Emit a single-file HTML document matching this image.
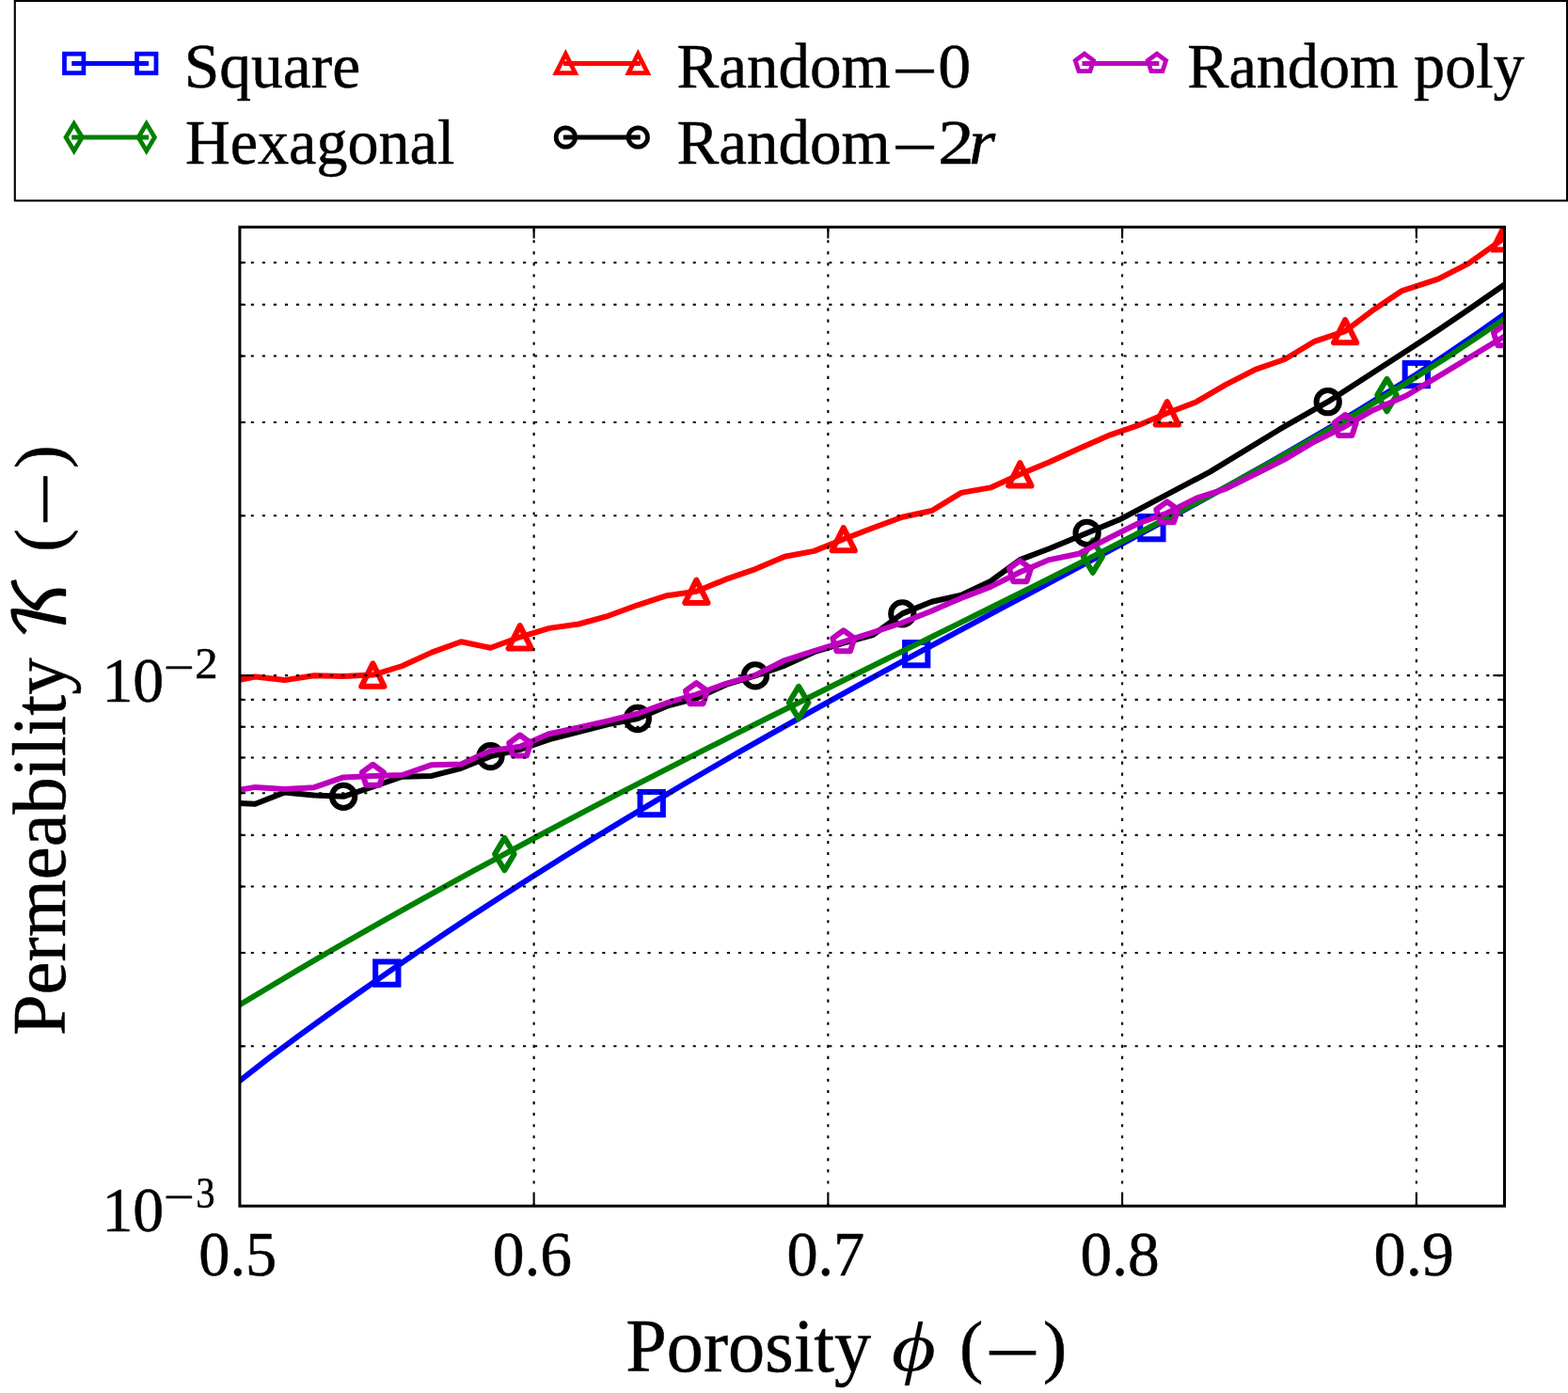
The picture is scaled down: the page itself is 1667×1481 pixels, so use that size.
<!DOCTYPE html>
<html lang="en"><head><meta charset="utf-8"><title>Permeability vs. porosity</title>
<style>
html,body{margin:0;padding:0;background:#fff}
body{width:1667px;height:1481px;overflow:hidden;position:relative}
/* The calligraphic K of the y-axis label needs the DejaVu Math font. .fontprobe measures that glyph:
   when the font is present the probe is exactly 944px wide and the container query shows the script K,
   otherwise the italic Liberation Serif K stays visible. */
.fontprobe{position:absolute;left:0;top:0;width:max-content;font:1000px/1 'DejaVu Math TeX Gyre','Liberation Serif',serif}
.fontprobe>i{display:block;height:0;overflow:hidden;visibility:hidden;font-style:normal;white-space:nowrap}
.stage{container-type:inline-size;container-name:kfont;width:100%;font-size:16px;line-height:normal}
svg{display:block}
svg text{font-family:'Liberation Serif','DejaVu Serif',serif;fill:#000;stroke:#000;stroke-width:0.5px;stroke-linejoin:round}
.kcal{display:none}
@container kfont (min-width:943.5px) and (max-width:944.5px){.kcal{display:inline}.kalt{display:none}}
</style>
</head><body>
<div class="fontprobe"><i aria-hidden="true">𝒦</i><div class="stage">
<svg width="1667" height="1481" viewBox="0 0 1667 1481">
<rect width="1667" height="1481" fill="#fff"/>
<defs><clipPath id="ax"><rect x="254.9" y="241.4" width="1344.6" height="1040.8"/></clipPath></defs>
<g id="curves" clip-path="url(#ax)">
<g id="square">
<polyline points="254.9,1149.05 286.17,1124.72 317.45,1101.31 348.72,1078.71 379.99,1056.49 411.26,1034.63 442.54,1013.14 473.81,992.06 505.08,971.34 536.36,950.98 567.63,930.95 598.9,911.26 630.18,891.89 661.45,872.83 692.72,854.06 724,835.53 755.27,817.24 786.54,799.21 817.81,781.4 849.09,763.82 880.36,746.43 911.63,729.21 942.91,712.14 974.18,695.2 1005.45,678.36 1036.73,661.62 1068,644.93 1099.27,628.26 1130.54,611.58 1161.82,594.86 1193.09,578.07 1224.36,561.16 1255.64,544.12 1286.91,526.9 1318.18,509.46 1349.46,491.77 1380.73,473.79 1412,455.48 1443.27,436.79 1474.55,417.68 1505.82,398.11 1537.09,377.37 1568.37,356 1599.5,334.09" fill="none" stroke="#0000ff" stroke-width="6" stroke-linejoin="round" stroke-linecap="square"/>
<rect x="399.15" y="1022.46" width="24.3" height="24.3" fill="none" stroke="#0000ff" stroke-width="6"/>
<rect x="680.55" y="841.93" width="24.3" height="24.3" fill="none" stroke="#0000ff" stroke-width="6"/>
<rect x="962.05" y="683.04" width="24.3" height="24.3" fill="none" stroke="#0000ff" stroke-width="6"/>
<rect x="1212.25" y="548.99" width="24.3" height="24.3" fill="none" stroke="#0000ff" stroke-width="6"/>
<rect x="1493.65" y="385.97" width="24.3" height="24.3" fill="none" stroke="#0000ff" stroke-width="6"/>
</g>
<g id="hexagonal">
<polyline points="254.9,1068.29 286.17,1049.47 317.45,1030.85 348.72,1012.52 379.99,994.61 411.26,976.91 442.54,959.41 473.81,942.11 505.08,924.99 536.36,908.02 567.63,891.24 598.9,874.64 630.18,858.2 661.45,841.92 692.72,825.8 724,809.81 755.27,793.94 786.54,778.19 817.81,762.54 849.09,746.97 880.36,731.46 911.63,715.99 942.91,700.55 974.18,685.13 1005.45,669.7 1036.73,654.23 1068,638.72 1099.27,623.13 1130.54,607.44 1161.82,591.62 1193.09,575.65 1224.36,559.5 1255.64,543.13 1286.91,526.53 1318.18,509.65 1349.46,492.48 1380.73,474.96 1412,457.08 1443.27,438.79 1474.55,420.05 1505.82,400.65 1537.09,380.72 1568.37,360.09 1599.5,338.93" fill="none" stroke="#008000" stroke-width="6" stroke-linejoin="round" stroke-linecap="square"/>
<polygon points="536.4,890.82 526.09,908 536.4,925.18 546.71,908" fill="none" stroke="#008000" stroke-width="6" stroke-linejoin="round" stroke-miterlimit="10"/>
<polygon points="849.1,729.78 838.79,746.97 849.1,764.15 859.41,746.97" fill="none" stroke="#008000" stroke-width="6" stroke-linejoin="round" stroke-miterlimit="10"/>
<polygon points="1161.8,574.45 1151.49,591.63 1161.8,608.81 1172.11,591.63" fill="none" stroke="#008000" stroke-width="6" stroke-linejoin="round" stroke-miterlimit="10"/>
<polygon points="1474.5,402.9 1464.19,420.08 1474.5,437.26 1484.81,420.08" fill="none" stroke="#008000" stroke-width="6" stroke-linejoin="round" stroke-miterlimit="10"/>
</g>
<g id="random0">
<polyline points="254.9,722.7 271.3,719.5 302.57,723.1 333.85,718.3 365.12,719 396.39,717.6 427.67,708 458.94,693.6 490.21,682.3 521.48,688.8 552.76,677.3 584.03,667.9 615.3,663.5 646.58,654.8 677.85,643.3 709.12,633.2 740.39,628.8 771.67,615.9 802.94,605.1 834.21,591.7 865.49,585.9 896.76,573.2 928.03,561.2 959.31,549.7 990.58,543 1021.85,523.9 1053.12,518.4 1084.4,504.3 1115.67,491.2 1146.94,476.9 1178.22,463.2 1209.49,452.4 1240.76,439.3 1272.04,427.2 1303.31,408.9 1334.58,392.8 1365.86,382 1397,363.2 1430.1,352.2 1460.5,329.2 1490.7,309.1 1528.5,296.8 1561.2,280.1 1599,253.3" fill="none" stroke="#ff0000" stroke-width="6" stroke-linejoin="round" stroke-linecap="square"/>
<polygon points="396.39,705.45 384.24,729.75 408.54,729.75" fill="none" stroke="#ff0000" stroke-width="6" stroke-linejoin="round" stroke-miterlimit="10"/>
<polygon points="552.76,665.15 540.61,689.45 564.91,689.45" fill="none" stroke="#ff0000" stroke-width="6" stroke-linejoin="round" stroke-miterlimit="10"/>
<polygon points="740.39,616.65 728.25,640.95 752.54,640.95" fill="none" stroke="#ff0000" stroke-width="6" stroke-linejoin="round" stroke-miterlimit="10"/>
<polygon points="896.76,561.05 884.61,585.35 908.91,585.35" fill="none" stroke="#ff0000" stroke-width="6" stroke-linejoin="round" stroke-miterlimit="10"/>
<polygon points="1084.4,492.15 1072.25,516.45 1096.55,516.45" fill="none" stroke="#ff0000" stroke-width="6" stroke-linejoin="round" stroke-miterlimit="10"/>
<polygon points="1240.76,427.15 1228.61,451.45 1252.91,451.45" fill="none" stroke="#ff0000" stroke-width="6" stroke-linejoin="round" stroke-miterlimit="10"/>
<polygon points="1430.1,340.05 1417.95,364.35 1442.25,364.35" fill="none" stroke="#ff0000" stroke-width="6" stroke-linejoin="round" stroke-miterlimit="10"/>
<polygon points="1599,241.15 1586.85,265.45 1611.15,265.45" fill="none" stroke="#ff0000" stroke-width="6" stroke-linejoin="round" stroke-miterlimit="10"/>
</g>
<g id="random2r">
<polyline points="254.9,854.1 271.3,854.7 302.57,842.5 333.85,845.5 365.12,846.8 396.39,836.5 427.67,825.7 458.94,824.9 490.21,816.8 521.48,804.1 552.76,796.9 584.03,786.1 615.3,778 646.58,770 677.85,764 709.12,750.7 740.39,742.4 771.67,728 802.94,718.4 834.21,707.6 865.49,693.2 896.76,683.6 928.03,675.2 959.31,652.4 990.58,639.7 1021.85,632.8 1053.12,617.9 1084.4,595.1 1115.67,583.2 1155.6,566.8 1190,552.6 1286.4,501.6 1360,456.7 1411.7,427.2 1470,389.5 1515.5,360 1560,330 1599.5,302.6" fill="none" stroke="#000000" stroke-width="6" stroke-linejoin="round" stroke-linecap="square"/>
<circle cx="365.12" cy="846.8" r="12.15" fill="none" stroke="#000000" stroke-width="6" stroke-linejoin="round" stroke-miterlimit="10"/>
<circle cx="521.48" cy="804.1" r="12.15" fill="none" stroke="#000000" stroke-width="6" stroke-linejoin="round" stroke-miterlimit="10"/>
<circle cx="677.85" cy="764" r="12.15" fill="none" stroke="#000000" stroke-width="6" stroke-linejoin="round" stroke-miterlimit="10"/>
<circle cx="802.94" cy="718.4" r="12.15" fill="none" stroke="#000000" stroke-width="6" stroke-linejoin="round" stroke-miterlimit="10"/>
<circle cx="959.31" cy="652.4" r="12.15" fill="none" stroke="#000000" stroke-width="6" stroke-linejoin="round" stroke-miterlimit="10"/>
<circle cx="1155.6" cy="566.8" r="12.15" fill="none" stroke="#000000" stroke-width="6" stroke-linejoin="round" stroke-miterlimit="10"/>
<circle cx="1411.7" cy="427.2" r="12.15" fill="none" stroke="#000000" stroke-width="6" stroke-linejoin="round" stroke-miterlimit="10"/>
</g>
<g id="randompoly">
<polyline points="254.9,839.8 271.3,836.9 302.57,838.9 333.85,837.2 365.12,826.4 396.39,824.9 427.67,824 458.94,813.2 490.21,812.5 521.48,798.1 552.76,793.7 584.03,780.1 615.3,773.5 646.58,766.3 677.85,758.7 709.12,747.2 740.39,738.3 771.67,726.8 802.94,717.9 834.21,702 865.49,692 896.76,682.4 928.03,672.3 959.31,662 990.58,649.5 1021.85,635.9 1053.12,623.9 1084.4,608.3 1115.67,595.1 1146.94,588.7 1178.22,572.4 1209.49,556.8 1240.76,545.5 1272.04,529.6 1303.31,519.6 1334.58,504 1365.86,488.4 1396.6,470 1430.2,453.2 1459,436.4 1495,420.8 1599.5,357.5" fill="none" stroke="#bf00bf" stroke-width="6" stroke-linejoin="round" stroke-linecap="square"/>
<polygon points="396.39,812.75 407.95,821.15 403.53,834.73 389.25,834.73 384.84,821.15" fill="none" stroke="#bf00bf" stroke-width="6" stroke-linejoin="round" stroke-miterlimit="10"/>
<polygon points="552.76,781.55 564.31,789.95 559.9,803.53 545.62,803.53 541.2,789.95" fill="none" stroke="#bf00bf" stroke-width="6" stroke-linejoin="round" stroke-miterlimit="10"/>
<polygon points="740.39,726.15 751.95,734.55 747.54,748.13 733.25,748.13 728.84,734.55" fill="none" stroke="#bf00bf" stroke-width="6" stroke-linejoin="round" stroke-miterlimit="10"/>
<polygon points="896.76,670.25 908.32,678.65 903.9,692.23 889.62,692.23 885.2,678.65" fill="none" stroke="#bf00bf" stroke-width="6" stroke-linejoin="round" stroke-miterlimit="10"/>
<polygon points="1084.4,596.15 1095.95,604.55 1091.54,618.13 1077.26,618.13 1072.84,604.55" fill="none" stroke="#bf00bf" stroke-width="6" stroke-linejoin="round" stroke-miterlimit="10"/>
<polygon points="1240.76,533.35 1252.32,541.75 1247.9,555.33 1233.62,555.33 1229.21,541.75" fill="none" stroke="#bf00bf" stroke-width="6" stroke-linejoin="round" stroke-miterlimit="10"/>
<polygon points="1430.2,441.05 1441.76,449.45 1437.34,463.03 1423.06,463.03 1418.64,449.45" fill="none" stroke="#bf00bf" stroke-width="6" stroke-linejoin="round" stroke-miterlimit="10"/>
<polygon points="1599.5,345.35 1611.06,353.75 1606.64,367.33 1592.36,367.33 1587.94,353.75" fill="none" stroke="#bf00bf" stroke-width="6" stroke-linejoin="round" stroke-miterlimit="10"/>
</g>
</g>
<g id="gridv" fill="none" stroke="#000" stroke-width="2.1" stroke-dasharray="3.1 8.95" stroke-dashoffset="0.4">
<line x1="567.63" y1="1282.2" x2="567.63" y2="241.4"/>
<line x1="880.36" y1="1282.2" x2="880.36" y2="241.4"/>
<line x1="1193.09" y1="1282.2" x2="1193.09" y2="241.4"/>
<line x1="1505.82" y1="1282.2" x2="1505.82" y2="241.4"/>
</g>
<g id="gridh" fill="none" stroke="#000" stroke-width="2.1" stroke-dasharray="3.1 8.95" stroke-dashoffset="0.2">
<line x1="254.9" y1="1112.32" x2="1599.5" y2="1112.32"/>
<line x1="254.9" y1="1013" x2="1599.5" y2="1013"/>
<line x1="254.9" y1="942.54" x2="1599.5" y2="942.54"/>
<line x1="254.9" y1="887.88" x2="1599.5" y2="887.88"/>
<line x1="254.9" y1="843.22" x2="1599.5" y2="843.22"/>
<line x1="254.9" y1="805.46" x2="1599.5" y2="805.46"/>
<line x1="254.9" y1="772.76" x2="1599.5" y2="772.76"/>
<line x1="254.9" y1="743.91" x2="1599.5" y2="743.91"/>
<line x1="254.9" y1="718.1" x2="1599.5" y2="718.1"/>
<line x1="254.9" y1="548.32" x2="1599.5" y2="548.32"/>
<line x1="254.9" y1="449" x2="1599.5" y2="449"/>
<line x1="254.9" y1="378.54" x2="1599.5" y2="378.54"/>
<line x1="254.9" y1="323.88" x2="1599.5" y2="323.88"/>
<line x1="254.9" y1="279.22" x2="1599.5" y2="279.22"/>
</g>
<g id="ticks" stroke="#000" stroke-width="2.1" fill="none">
<line x1="567.63" y1="1282.2" x2="567.63" y2="1270.1"/>
<line x1="567.63" y1="241.4" x2="567.63" y2="253.5"/>
<line x1="880.36" y1="1282.2" x2="880.36" y2="1270.1"/>
<line x1="880.36" y1="241.4" x2="880.36" y2="253.5"/>
<line x1="1193.09" y1="1282.2" x2="1193.09" y2="1270.1"/>
<line x1="1193.09" y1="241.4" x2="1193.09" y2="253.5"/>
<line x1="1505.82" y1="1282.2" x2="1505.82" y2="1270.1"/>
<line x1="1505.82" y1="241.4" x2="1505.82" y2="253.5"/>
<line x1="254.9" y1="1112.32" x2="260.9" y2="1112.32"/>
<line x1="1599.5" y1="1112.32" x2="1593.5" y2="1112.32"/>
<line x1="254.9" y1="1013" x2="260.9" y2="1013"/>
<line x1="1599.5" y1="1013" x2="1593.5" y2="1013"/>
<line x1="254.9" y1="942.54" x2="260.9" y2="942.54"/>
<line x1="1599.5" y1="942.54" x2="1593.5" y2="942.54"/>
<line x1="254.9" y1="887.88" x2="260.9" y2="887.88"/>
<line x1="1599.5" y1="887.88" x2="1593.5" y2="887.88"/>
<line x1="254.9" y1="843.22" x2="260.9" y2="843.22"/>
<line x1="1599.5" y1="843.22" x2="1593.5" y2="843.22"/>
<line x1="254.9" y1="805.46" x2="260.9" y2="805.46"/>
<line x1="1599.5" y1="805.46" x2="1593.5" y2="805.46"/>
<line x1="254.9" y1="772.76" x2="260.9" y2="772.76"/>
<line x1="1599.5" y1="772.76" x2="1593.5" y2="772.76"/>
<line x1="254.9" y1="743.91" x2="260.9" y2="743.91"/>
<line x1="1599.5" y1="743.91" x2="1593.5" y2="743.91"/>
<line x1="254.9" y1="718.1" x2="267" y2="718.1"/>
<line x1="1599.5" y1="718.1" x2="1587.4" y2="718.1"/>
<line x1="254.9" y1="548.32" x2="260.9" y2="548.32"/>
<line x1="1599.5" y1="548.32" x2="1593.5" y2="548.32"/>
<line x1="254.9" y1="449" x2="260.9" y2="449"/>
<line x1="1599.5" y1="449" x2="1593.5" y2="449"/>
<line x1="254.9" y1="378.54" x2="260.9" y2="378.54"/>
<line x1="1599.5" y1="378.54" x2="1593.5" y2="378.54"/>
<line x1="254.9" y1="323.88" x2="260.9" y2="323.88"/>
<line x1="1599.5" y1="323.88" x2="1593.5" y2="323.88"/>
<line x1="254.9" y1="279.22" x2="260.9" y2="279.22"/>
<line x1="1599.5" y1="279.22" x2="1593.5" y2="279.22"/>
</g>
<rect id="frame" x="254.9" y="241.4" width="1344.6" height="1040.8" fill="none" stroke="#000" stroke-width="3"/>
<g id="xticklabels">
<text><tspan x="211.32" y="1356.4" font-size="68.5" textLength="83.02" lengthAdjust="spacingAndGlyphs">0.5</tspan></text>
<text><tspan x="523.68" y="1356.4" font-size="68.5" textLength="84.49" lengthAdjust="spacingAndGlyphs">0.6</tspan></text>
<text><tspan x="836.43" y="1356.4" font-size="68.5" textLength="82.83" lengthAdjust="spacingAndGlyphs">0.7</tspan></text>
<text><tspan x="1148.58" y="1356.4" font-size="68.5" textLength="84.23" lengthAdjust="spacingAndGlyphs">0.8</tspan></text>
<text><tspan x="1460.55" y="1356.4" font-size="68.5" textLength="85.3" lengthAdjust="spacingAndGlyphs">0.9</tspan></text>
</g>
<g id="yticklabels">
<text><tspan x="108.41" y="745.7" font-size="68.5" textLength="65.84" lengthAdjust="spacingAndGlyphs">10</tspan><tspan x="174.26" y="724.82" font-size="46" textLength="32.72" lengthAdjust="spacingAndGlyphs">−</tspan><tspan x="207.21" y="720.9" font-size="45.5" textLength="24.32" lengthAdjust="spacingAndGlyphs">2</tspan></text>
<text><tspan x="108.41" y="1308.85" font-size="68.5" textLength="65.84" lengthAdjust="spacingAndGlyphs">10</tspan><tspan x="174.26" y="1287.97" font-size="46" textLength="32.72" lengthAdjust="spacingAndGlyphs">−</tspan><tspan x="208.26" y="1283.7" font-size="45.5" textLength="20.38" lengthAdjust="spacingAndGlyphs">3</tspan></text>
</g>
<text id="xlabel"><tspan x="665.3" y="1458.2" font-size="80" textLength="260.96" lengthAdjust="spacingAndGlyphs">Porosity</tspan> <tspan stroke-width="0" x="947.86" y="1457.1" font-size="74" textLength="47.23" lengthAdjust="spacingAndGlyphs" font-style="italic">ϕ</tspan> <tspan x="1020.11" y="1456.4" font-size="74" textLength="25.28" lengthAdjust="spacingAndGlyphs">(</tspan><tspan x="1046.71" y="1464.96" font-size="80" textLength="59.39" lengthAdjust="spacingAndGlyphs">−</tspan><tspan x="1108.78" y="1456.4" font-size="74" textLength="25.54" lengthAdjust="spacingAndGlyphs">)</tspan></text>
<text id="ylabel" transform="translate(68.8 1099.1) rotate(-90)"><tspan x="-2.01" y="0" font-size="80" textLength="401.57" lengthAdjust="spacingAndGlyphs">Permeability</tspan> <tspan class="kcal" stroke-width="1.4" x="419.56" y="1.5" font-size="74.5" textLength="68.27" lengthAdjust="spacingAndGlyphs" font-family="'DejaVu Math TeX Gyre','Liberation Serif',serif">𝒦</tspan><tspan class="kalt" x="425.79" y="0" font-size="80" textLength="53.33" lengthAdjust="spacingAndGlyphs" font-style="italic">K</tspan> <tspan x="512.33" y="-1.8" font-size="74" textLength="24.38" lengthAdjust="spacingAndGlyphs">(</tspan><tspan x="538.99" y="6.06" font-size="80" textLength="58.42" lengthAdjust="spacingAndGlyphs">−</tspan><tspan x="600.93" y="-1.8" font-size="74" textLength="25.02" lengthAdjust="spacingAndGlyphs">)</tspan></text>
<g id="legend">
<rect x="15.8" y="1" width="1650.2" height="212.35" fill="#fff" stroke="#000" stroke-width="2.1"/>
<line x1="78.7" y1="67.45" x2="155.75" y2="67.45" stroke="#0000ff" stroke-width="4.9" stroke-linecap="square"/>
<rect x="68.5" y="57.25" width="20.4" height="20.4" fill="none" stroke="#0000ff" stroke-width="4.75"/>
<rect x="145.55" y="57.25" width="20.4" height="20.4" fill="none" stroke="#0000ff" stroke-width="4.75"/>
<text><tspan x="195.69" y="92.5" font-size="68" textLength="187.5" lengthAdjust="spacingAndGlyphs">Square</tspan></text>
<line x1="78.7" y1="146" x2="155.75" y2="146" stroke="#008000" stroke-width="4.9" stroke-linecap="square"/>
<polygon points="78.7,131.57 70.04,146 78.7,160.43 87.36,146" fill="none" stroke="#008000" stroke-width="4.75" stroke-linejoin="miter" stroke-miterlimit="10"/>
<polygon points="155.75,131.57 147.09,146 155.75,160.43 164.41,146" fill="none" stroke="#008000" stroke-width="4.75" stroke-linejoin="miter" stroke-miterlimit="10"/>
<text><tspan x="196.99" y="173.7" font-size="68" textLength="286.29" lengthAdjust="spacingAndGlyphs">Hexagonal</tspan></text>
<line x1="601.35" y1="67.45" x2="678.3" y2="67.45" stroke="#ff0000" stroke-width="4.9" stroke-linecap="square"/>
<polygon points="601.35,57.25 591.15,77.65 611.55,77.65" fill="none" stroke="#ff0000" stroke-width="4.75" stroke-linejoin="miter" stroke-miterlimit="10"/>
<polygon points="678.3,57.25 668.1,77.65 688.5,77.65" fill="none" stroke="#ff0000" stroke-width="4.75" stroke-linejoin="miter" stroke-miterlimit="10"/>
<text><tspan x="719.52" y="92.5" font-size="68" textLength="227.18" lengthAdjust="spacingAndGlyphs">Random</tspan><tspan x="947.92" y="97.25" font-size="64" textLength="49.08" lengthAdjust="spacingAndGlyphs">−</tspan><tspan x="997.28" y="92.5" font-size="68" textLength="35.04" lengthAdjust="spacingAndGlyphs">0</tspan></text>
<line x1="601.35" y1="146" x2="678.3" y2="146" stroke="#000000" stroke-width="4.9" stroke-linecap="square"/>
<circle cx="601.35" cy="146" r="10.2" fill="none" stroke="#000000" stroke-width="4.75" stroke-linejoin="miter" stroke-miterlimit="10"/>
<circle cx="678.3" cy="146" r="10.2" fill="none" stroke="#000000" stroke-width="4.75" stroke-linejoin="miter" stroke-miterlimit="10"/>
<text><tspan x="719.52" y="173.7" font-size="68" textLength="227.18" lengthAdjust="spacingAndGlyphs">Random</tspan><tspan x="947.92" y="178.45" font-size="64" textLength="49.08" lengthAdjust="spacingAndGlyphs">−</tspan><tspan x="997.37" y="173.7" font-size="68" textLength="38.42" lengthAdjust="spacingAndGlyphs">2</tspan><tspan x="1030.11" y="173.7" font-size="68" textLength="28.23" lengthAdjust="spacingAndGlyphs" font-style="italic">r</tspan></text>
<line x1="1152.9" y1="67.45" x2="1229.9" y2="67.45" stroke="#bf00bf" stroke-width="4.9" stroke-linecap="square"/>
<polygon points="1152.9,57.25 1162.6,64.3 1158.9,75.7 1146.9,75.7 1143.2,64.3" fill="none" stroke="#bf00bf" stroke-width="4.75" stroke-linejoin="miter" stroke-miterlimit="10"/>
<polygon points="1229.9,57.25 1239.6,64.3 1235.9,75.7 1223.9,75.7 1220.2,64.3" fill="none" stroke="#bf00bf" stroke-width="4.75" stroke-linejoin="miter" stroke-miterlimit="10"/>
<text><tspan x="1262.24" y="92.5" font-size="68" textLength="358.47" lengthAdjust="spacingAndGlyphs">Random poly</tspan></text>
</g>
</svg>
</div></div>
</body></html>
